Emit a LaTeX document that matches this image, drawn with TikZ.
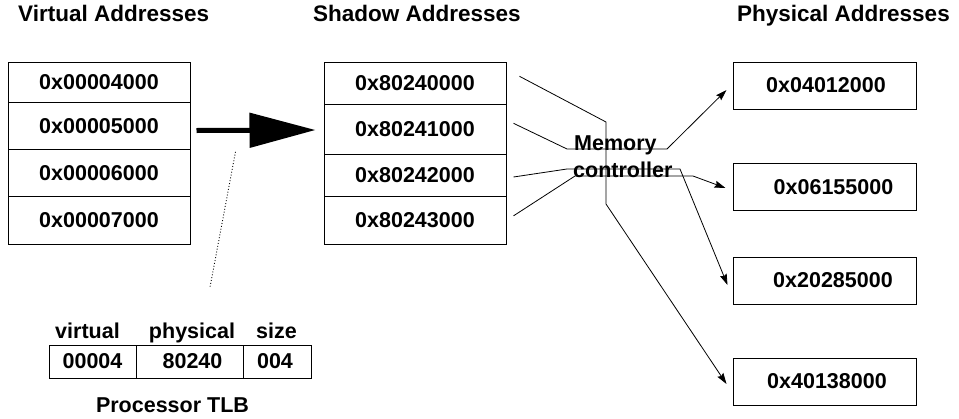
\documentclass[tikz,border=0pt]{standalone}
\usepackage{fontspec}
\setmainfont{Liberation Sans}
\usetikzlibrary{arrows.meta,calc}
\begin{document}
\begin{tikzpicture}[x=1pt,y=-1pt,
  txt/.style={font=\fontsize{21.5}{24}\selectfont\bfseries, inner sep=0pt},
  head/.style={font=\fontsize{22.5}{26}\selectfont\bfseries, inner sep=0pt},
  cell/.style={txt, draw, line width=1pt, minimum width=182pt, inner sep=0pt},
  pbox/.style={draw, line width=1pt, minimum width=183pt, minimum height=47pt, inner sep=0pt},
  tcell/.style={txt, draw, line width=1pt, minimum height=33pt, inner sep=0pt},
  wire/.style={line width=0.8pt},
  tip/.style={wire, -{Stealth[length=11pt,width=7pt,inset=1.5pt]}},
  bigarrow/.style={line width=5pt, -{Triangle[length=66pt,width=34pt]}},
  dots/.style={line width=0.9pt, dotted}
]
\useasboundingbox (0,0) rectangle (959,418);

% headings
\node[head, anchor=base west] (hv) at (18,21) {Virtual Addresses};
\node[head, anchor=base west] (hs) at (313,21) {Shadow Addresses};
\node[head, anchor=base east] (hp) at (950,21) {Physical Addresses};

% virtual table
\node[cell, minimum height=40.3pt] (v1) at (99,82.15) {0x00004000};
\node[cell, minimum height=47pt]   (v2) at (99,125.8) {0x00005000};
\node[cell, minimum height=47.4pt] (v3) at (99,173) {0x00006000};
\node[cell, minimum height=47.3pt] (v4) at (99,220.35) {0x00007000};

% shadow table
\node[cell, minimum height=42pt]   (s1) at (415,83.3) {0x80240000};
\node[cell, minimum height=50pt]   (s2) at (415,129.3) {0x80241000};
\node[cell, minimum height=42.4pt] (s3) at (415,175.5) {0x80242000};
\node[cell, minimum height=47.3pt] (s4) at (415,220.35) {0x80243000};

% physical boxes
\node[pbox, label={[txt,xshift=1.5pt]center:0x04012000}] (p1) at (824.5,85.5) {};
\node[pbox, label={[txt,xshift=9pt]center:0x06155000}]   (p2) at (824.5,187) {};
\node[pbox, label={[txt,xshift=8.5pt]center:0x20285000}] (p3) at (824.5,280.5) {};
\node[pbox, label={[txt,xshift=2.5pt]center:0x40138000}] (p4) at (824.5,381.5) {};

% memory controller label
\node[txt, anchor=base west] (mc1) at (574,150) {Memory};
\node[txt, anchor=base west] (mc2) at (573,177) {controller};

% big arrow
\draw[bigarrow] ($(v2.east)+(6,4.7)$) -- ($(s2.west)+(-8,0.7)$);

% TLB
\node[tcell, minimum width=87pt]  (t1) at (92.5,361.5) {00004};
\node[tcell, minimum width=107pt] (t2) at (189.5,361.5) {\hspace*{6pt}80240};
\node[tcell, minimum width=68pt]  (t3) at (277,361.5) {004\hspace*{4pt}};
\node[txt, anchor=base] (th1) at (87.5,338) {virtual};
\node[txt, anchor=base] (th2) at (192,338) {physical};
\node[txt, anchor=base] (th3) at (276.5,338) {size};
\node[txt, anchor=base] (tlb) at (172.5,412) {Processor TLB};

% dotted link
\coordinate (d1) at ($(v2.east)+(45,26)$);
\coordinate (d2) at ($(th2.north)+(18,-35)$);
\draw[dots] (d1) -- (d2);

% wires through memory controller
\coordinate (a1) at ($(s1.east)+(13,-7)$);
\coordinate (a2) at ($(s2.east)+(7,-6)$);
\coordinate (a3) at ($(s3.east)+(7,1.5)$);
\coordinate (a4) at ($(s4.east)+(7,-4.5)$);
\coordinate (e1) at ($(p4.west)+(-6,2.5)$);
\coordinate (e2) at ($(p1.west)+(-6,4.5)$);
\coordinate (e3) at ($(p3.west)+(-5,4.5)$);
\coordinate (e4) at ($(p2.west)+(-7,1)$);

\draw[tip] (a1) -- (606,122) -- (606,204) -- (e1);
\draw[tip] (a2) -- (567,149) -- (667,149) -- (e2);
\draw[tip] (a3) -- (567,169) -- (680,169) -- (e3);
\draw[tip] (a4) -- (575,176) -- (693,176) -- (e4);
\end{tikzpicture}
\end{document}
